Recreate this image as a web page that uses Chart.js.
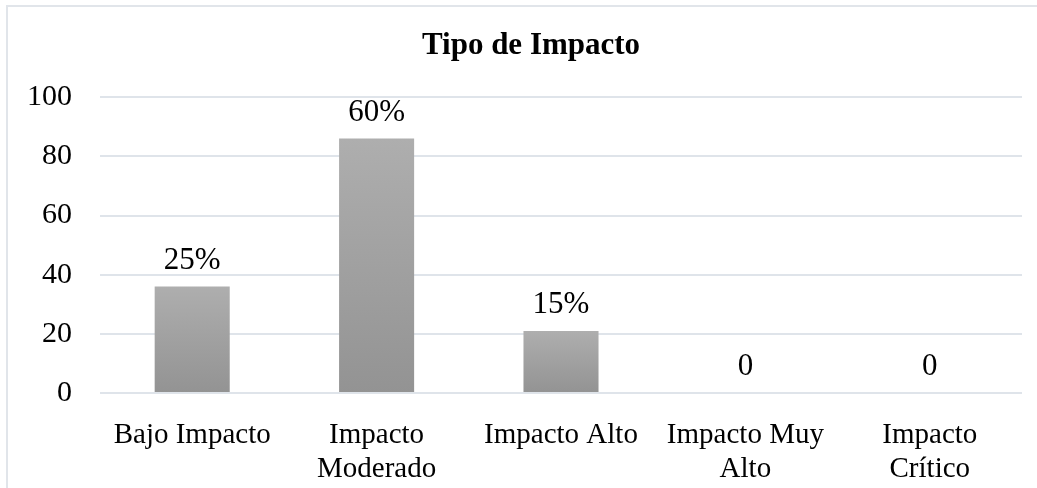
<!DOCTYPE html>
<html>
<head>
<meta charset="utf-8">
<script src="https://cdn.jsdelivr.net/npm/chart.js@4/dist/chart.umd.min.js"></script>
<style>
 html,body{margin:0;padding:0;background:#fff;overflow:hidden;}
 #frame{position:absolute;left:6px;top:5px;width:1100px;height:600px;border-top:2px solid #e1e5ea;border-left:2px solid #e1e5ea;}
 #wrap{position:absolute;left:0;top:0;width:1037px;height:488px;}
</style>
</head>
<body>
<div id="frame"></div>
<div id="wrap"><canvas id="chart"></canvas></div>
<script>
/* data */
var categories=[['Bajo Impacto'],['Impacto','Moderado'],['Impacto Alto'],['Impacto Muy','Alto'],['Impacto','Crítico']];
var values=[36,86,21,0,0];
var valueLabels=['25%','60%','15%','0','0'];
var yTicks=[0,20,40,60,80,100];

var serif='"Liberation Serif","Times New Roman",serif';

/* gradient per bar, light on top */
function barFill(c){
 var chart=c.chart;
 if(!chart.chartArea||!chart.scales.y) return '#a0a0a0';
 var y=chart.scales.y;
 var top=y.getPixelForValue(c.raw),base=y.getPixelForValue(0);
 if(base-top<1) return '#a0a0a0';
 var g=chart.ctx.createLinearGradient(0,top,0,base);
 g.addColorStop(0,'#aeaeae');
 g.addColorStop(1,'#939393');
 return g;
}

/* labels above bars */
var valueLabelPlugin={
 id:'valueLabels',
 afterDatasetsDraw:function(chart){
  var ctx=chart.ctx;
  var meta=chart.getDatasetMeta(0);
  ctx.save();
  ctx.font='31px '+serif;
  ctx.fillStyle='#000';
  ctx.textAlign='center';
  ctx.textBaseline='alphabetic';
  meta.data.forEach(function(bar,i){
   ctx.fillText(valueLabels[i],bar.x,bar.y-18);
  });
  ctx.restore();
 }
};

/* nudge the title a little to the right */
var titleShift={
 id:'titleShift',
 afterLayout:function(chart){
  if(chart.titleBlock){chart.titleBlock.left+=10;chart.titleBlock.right+=10;}
 }
};

var ctx=document.getElementById('chart').getContext('2d');
var myChart=new Chart(ctx,{
 type:'bar',
 data:{
  labels:categories,
  datasets:[{
   data:values,
   backgroundColor:barFill,
   borderWidth:0,
   barPercentage:0.407,
   categoryPercentage:1.0
  }]
 },
 options:{
  responsive:true,
  maintainAspectRatio:false,
  animation:false,
  layout:{padding:{left:20,right:15,top:0,bottom:0}},
  plugins:{
   legend:{display:false},
   tooltip:{enabled:false},
   title:{
    display:true,
    text:'Tipo de Impacto',
    color:'#000',
    font:{family:serif,size:31,weight:'bold'},
    padding:{top:27,bottom:33}
   }
  },
  scales:{
   x:{
    grid:{display:false},
    border:{display:false},
    ticks:{
     color:'#000',
     font:{family:serif,size:29,lineHeight:1.17},
     padding:17,
     autoSkip:false,
     maxRotation:0,
     minRotation:0
    },
    afterFit:function(scale){scale.height=95;}
   },
   y:{
    min:0,
    max:100,
    afterBuildTicks:function(scale){scale.ticks=yTicks.map(function(v){return {value:v};});},
    grid:{color:'#dfe4ea',lineWidth:2,drawTicks:false},
    border:{display:false},
    ticks:{
     color:'#000',
     font:{family:serif,size:30},
     padding:28
    },
    afterFit:function(scale){scale.width=80;}
   }
  }
 },
 plugins:[valueLabelPlugin,titleShift]
});
</script>
</body>
</html>
